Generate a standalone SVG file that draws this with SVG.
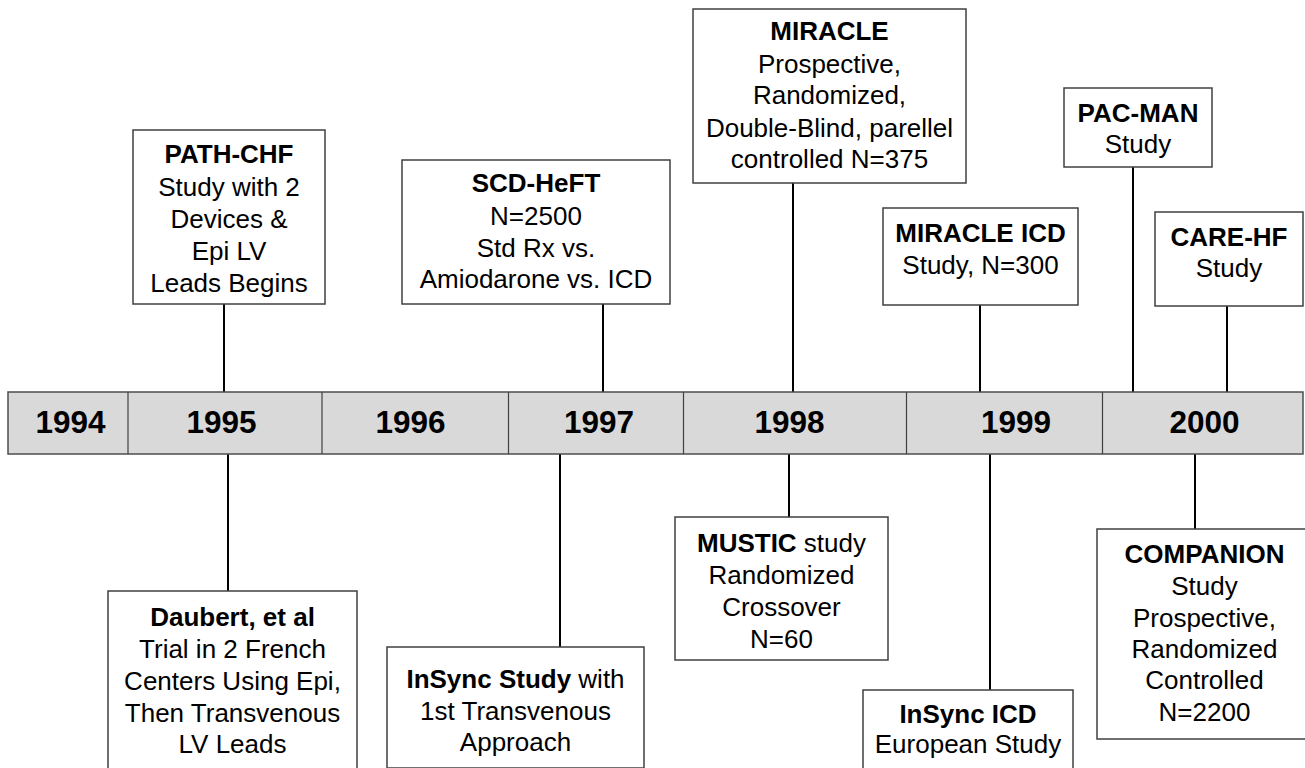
<svg xmlns="http://www.w3.org/2000/svg" width="1305" height="768" viewBox="0 0 1305 768">
<style>
.bg{fill:#ffffff}
.box{fill:#ffffff;stroke:#404040;stroke-width:1.5}
.bar{fill:#d9d9d9;stroke:#4d4d4d;stroke-width:1.5}
.div{stroke:#404040;stroke-width:1.2}
.conn line{stroke:#000000;stroke-width:2}
text{font-family:"Liberation Sans",Arial,sans-serif;fill:#000000;text-anchor:middle}
.t{font-size:26px}
.b{font-weight:bold}
.yr{font-size:31.5px;font-weight:bold}
</style>
<rect class="bg" x="0" y="0" width="1305" height="768"/>
<g id="connectors" class="conn">
<line x1="224" y1="304" x2="224" y2="392"/>
<line x1="603" y1="304" x2="603" y2="392"/>
<line x1="793" y1="183" x2="793" y2="392"/>
<line x1="980" y1="305" x2="980" y2="392"/>
<line x1="1133" y1="167" x2="1133" y2="392"/>
<line x1="1227" y1="306" x2="1227" y2="392"/>
<line x1="228" y1="454" x2="228" y2="591"/>
<line x1="560" y1="454" x2="560" y2="647"/>
<line x1="789" y1="454" x2="789" y2="517"/>
<line x1="990" y1="454" x2="990" y2="690"/>
<line x1="1195" y1="454" x2="1195" y2="529"/>
</g>
<g id="timeline">
<rect class="bar" x="8" y="392" width="1295" height="62"/>
<line class="div" x1="128" y1="392" x2="128" y2="454"/>
<line class="div" x1="322" y1="392" x2="322" y2="454"/>
<line class="div" x1="508.5" y1="392" x2="508.5" y2="454"/>
<line class="div" x1="683.5" y1="392" x2="683.5" y2="454"/>
<line class="div" x1="906.5" y1="392" x2="906.5" y2="454"/>
<line class="div" x1="1102.5" y1="392" x2="1102.5" y2="454"/>
<text class="yr" x="70.5" y="433">1994</text>
<text class="yr" x="221.5" y="433">1995</text>
<text class="yr" x="410.5" y="433">1996</text>
<text class="yr" x="599" y="433">1997</text>
<text class="yr" x="789.5" y="433">1998</text>
<text class="yr" x="1016" y="433">1999</text>
<text class="yr" x="1204.5" y="433">2000</text>
</g>
<g id="path-chf">
<rect class="box" x="133" y="130" width="192" height="174"/>
<text class="t"><tspan class="b" x="229" y="163">PATH-CHF</tspan><tspan x="229" y="196">Study with 2</tspan><tspan x="229" y="228">Devices &amp;</tspan><tspan x="229" y="260">Epi LV</tspan><tspan x="229" y="292">Leads Begins</tspan></text>
</g>
<g id="scd-heft">
<rect class="box" x="402" y="160" width="268" height="144"/>
<text class="t"><tspan class="b" x="536" y="192">SCD-HeFT</tspan><tspan x="536" y="225">N=2500</tspan><tspan x="536" y="257">Std Rx vs.</tspan><tspan x="536" y="288">Amiodarone vs. ICD</tspan></text>
</g>
<g id="miracle">
<rect class="box" x="693" y="9" width="273" height="174"/>
<text class="t"><tspan class="b" x="829.5" y="40">MIRACLE</tspan><tspan x="829.5" y="73">Prospective,</tspan><tspan x="829.5" y="104">Randomized,</tspan><tspan x="829.5" y="137">Double-Blind, parellel</tspan><tspan x="829.5" y="168">controlled N=375</tspan></text>
</g>
<g id="miracle-icd">
<rect class="box" x="883" y="208" width="195" height="97"/>
<text class="t"><tspan class="b" x="980.5" y="242">MIRACLE ICD</tspan><tspan x="980.5" y="274">Study, N=300</tspan></text>
</g>
<g id="pac-man">
<rect class="box" x="1064" y="88" width="148" height="79"/>
<text class="t"><tspan class="b" x="1138" y="122">PAC-MAN</tspan><tspan x="1138" y="153">Study</tspan></text>
</g>
<g id="care-hf">
<rect class="box" x="1155" y="212" width="148" height="94"/>
<text class="t"><tspan class="b" x="1229" y="246">CARE-HF</tspan><tspan x="1229" y="277">Study</tspan></text>
</g>
<g id="daubert">
<rect class="box" x="108" y="591" width="249" height="182"/>
<text class="t"><tspan class="b" x="232.5" y="625.5">Daubert, et al</tspan><tspan x="232.5" y="657.5">Trial in 2 French</tspan><tspan x="232.5" y="689.5">Centers Using Epi,</tspan><tspan x="232.5" y="721.5">Then Transvenous</tspan><tspan x="232.5" y="753">LV Leads</tspan></text>
</g>
<g id="insync-study">
<rect class="box" x="387" y="647" width="257" height="121"/>
<text class="t"><tspan x="515.5" y="688"><tspan class="b">InSync Study</tspan> with</tspan><tspan x="515.5" y="719.5">1st Transvenous</tspan><tspan x="515.5" y="751">Approach</tspan></text>
</g>
<g id="mustic">
<rect class="box" x="675" y="517" width="213" height="143"/>
<text class="t"><tspan x="781.5" y="551.5"><tspan class="b">MUSTIC</tspan> study</tspan><tspan x="781.5" y="584">Randomized</tspan><tspan x="781.5" y="616">Crossover</tspan><tspan x="781.5" y="647.5">N=60</tspan></text>
</g>
<g id="insync-icd">
<rect class="box" x="863" y="690" width="210" height="83"/>
<text class="t"><tspan class="b" x="968" y="723">InSync ICD</tspan><tspan x="968" y="753">European Study</tspan></text>
</g>
<g id="companion">
<rect class="box" x="1097" y="529" width="215" height="210"/>
<text class="t"><tspan class="b" x="1204.5" y="563">COMPANION</tspan><tspan x="1204.5" y="595">Study</tspan><tspan x="1204.5" y="627">Prospective,</tspan><tspan x="1204.5" y="658">Randomized</tspan><tspan x="1204.5" y="689">Controlled</tspan><tspan x="1204.5" y="721">N=2200</tspan></text>
</g>
</svg>
